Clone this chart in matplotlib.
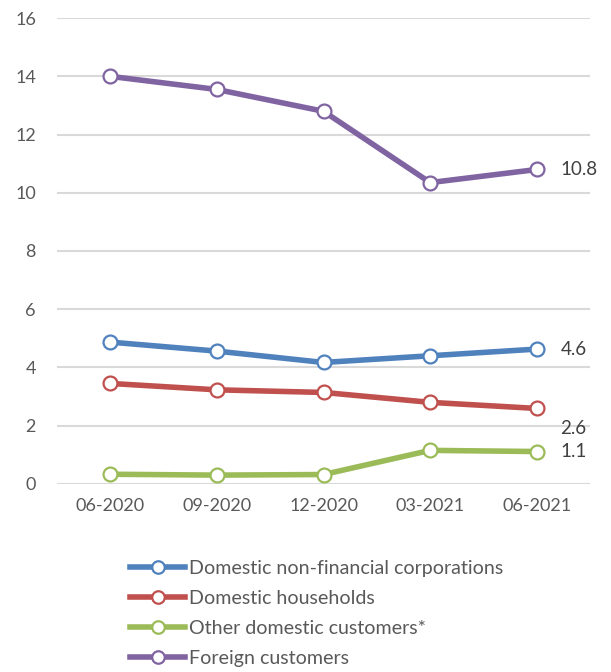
import numpy as np
import matplotlib.pyplot as plt
from matplotlib.lines import Line2D

plt.rcParams['font.family'] = ['Lato', 'DejaVu Sans']

quarters = ['06-2020', '09-2020', '12-2020', '03-2021', '06-2021']
corporations = [4.87, 4.56, 4.17, 4.40, 4.63]
households = [3.45, 3.23, 3.14, 2.80, 2.59]
other_domestic = [0.33, 0.30, 0.32, 1.15, 1.11]
foreign = [14.0, 13.55, 12.8, 10.35, 10.8]

names = ['Domestic non-financial corporations', 'Domestic households',
         'Other domestic customers*', 'Foreign customers']
series = [corporations, households, other_domestic, foreign]
colors = ['#4F81BD', '#C0504D', '#9BBB59', '#8064A2']

fig = plt.figure(figsize=(6.11, 6.72), dpi=100)
ax = fig.add_axes([0.093, 0.280, 0.873, 0.693])

x = np.arange(len(quarters))
handles = []
for vals, name, c in zip(series, names, colors):
    ax.plot(x, vals, color=c, lw=4.0, solid_capstyle='round', zorder=3)
    ax.plot(x, vals, ls='none', marker='o', ms=10, mfc='white', mec=c,
            mew=1.6, zorder=4)
    handles.append(Line2D([], [], color=c, lw=4.0, marker='o', ms=9,
                          mfc='white', mec=c, mew=1.6))

# value labels at the last quarter
lab_kw = dict(fontsize=13.5, color='#404040', va='center', ha='left')
ax.text(x[-1] + 0.22, foreign[-1], f'{foreign[-1]:.1f}', **lab_kw)
ax.text(x[-1] + 0.22, corporations[-1], f'{corporations[-1]:.1f}', **lab_kw)
ax.text(x[-1] + 0.22, households[-1] - 0.68, f'{households[-1]:.1f}', **lab_kw)
ax.text(x[-1] + 0.22, other_domestic[-1], f'{other_domestic[-1]:.1f}', **lab_kw)

ax.set_xlim(-0.5, len(quarters) - 0.5)
ax.set_ylim(0, 16)
ax.set_yticks(np.arange(0, 17, 2))
ax.set_xticks(x)
ax.set_xticklabels(quarters)
ax.tick_params(length=0, labelsize=13, colors='#595959', pad=10)
ax.tick_params(axis='y', pad=15)
ax.grid(axis='y', color='#D9D9D9', lw=1.5, zorder=0)
ax.set_axisbelow(True)
for s in ax.spines.values():
    s.set_visible(False)
for ln in ax.lines:
    ln.set_clip_on(False)

leg = fig.legend(handles, names, loc='center left',
                 bbox_to_anchor=(0.197, 0.087), frameon=False, fontsize=14.1,
                 handlelength=2.8, handletextpad=0.2, labelspacing=0.66,
                 borderpad=0)
for t in leg.get_texts():
    t.set_color('#595959')

fig.savefig('out.png', dpi=100)
